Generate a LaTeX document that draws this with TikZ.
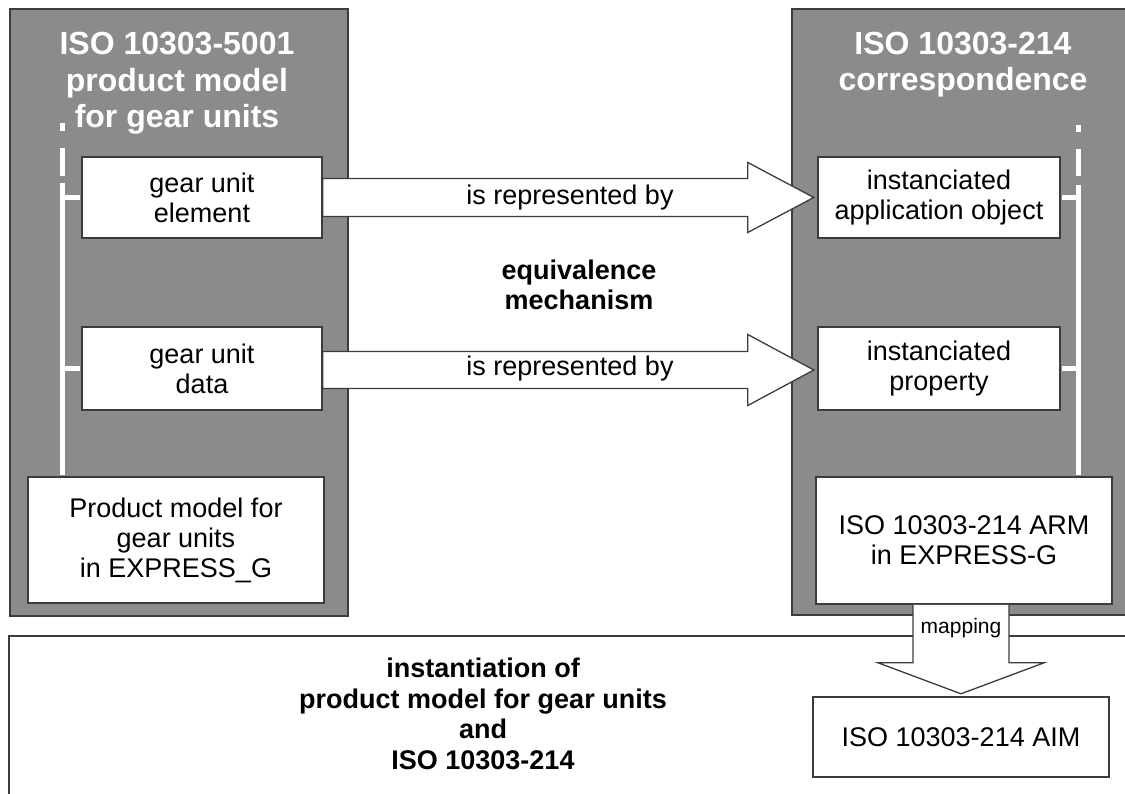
\documentclass[tikz,border=0pt]{standalone}
\usepackage{fontspec}
\setmainfont{Liberation Sans}
\usetikzlibrary{calc}
\definecolor{panelgray}{HTML}{8B8B8B}
\definecolor{edgegray}{HTML}{3C3C3C}
\tikzset{
  panel/.style={draw=edgegray,fill=panelgray,line width=1.5pt},
  itembox/.style={draw=edgegray,fill=white,line width=1.6pt,align=center,inner sep=0pt,
    font=\fontsize{27}{30}\selectfont},
  title/.style={text=white,align=center,font=\bfseries\fontsize{32}{36.5}\selectfont},
  boldtext/.style={align=center,font=\bfseries\fontsize{27}{30.5}\selectfont},
  blockarr/.style={draw=edgegray,fill=white,line width=1.3pt,line join=miter},
  tree/.style={white,line width=5pt},
}
\begin{document}
\begin{tikzpicture}[x=1pt,y=-1pt]
\useasboundingbox (0,0) rectangle (1125,794);
% panels and lower field
\draw[panel] (10,9) rectangle (348,616);
\draw[panel] (792,9) rectangle (1140,615);
\draw[edgegray,line width=1.5pt] (9,800) -- (9,636) -- (1140,636);
% titles (base = last line)
\node[title,anchor=base] (ltitle) at (177,128) {ISO 10303-5001\\product model\\for gear units};
\node[title,anchor=base] (rtitle) at (963,91) {ISO 10303-214\\correspondence};
% boxes
\node[itembox,minimum width=240pt,minimum height=81pt] (elem) at (202,197.5) {gear unit\\element};
\node[itembox,minimum width=240pt,minimum height=83pt] (gdata) at (202,368.5) {gear unit\\data};
\node[itembox,minimum width=296pt,minimum height=126pt] (pmodel) at (176,540) {Product model for\\gear units\\in EXPRESS\_G};
\node[itembox,minimum width=242pt,minimum height=81pt] (aobj) at (939,197.5) {instanciated\\application object};
\node[itembox,minimum width=242pt,minimum height=83pt] (aprop) at (939,368.5) {instanciated\\property};
\node[itembox,minimum width=296pt,minimum height=127pt] (arm) at (964,540.5) {ISO 10303-214 ARM\\in EXPRESS-G};
\node[itembox,minimum width=296pt,minimum height=80pt] (aim) at (961,737) {ISO 10303-214 AIM};
% tree lines
\coordinate (ltree) at (62,183);
\coordinate (rtree) at (1078,185);
\draw[tree] (62,123) -- (62,131) (62,148) -- (62,176);
\draw[tree] (1078,125) -- (1078,132) (1078,149) -- (1078,176);
\draw[tree,shorten >=0.8pt] (ltree) -- (ltree |- pmodel.north);
\draw[tree,shorten >=0.8pt] (ltree |- elem.west) -- (elem.west);
\draw[tree,shorten >=0.8pt] (ltree |- gdata.west) -- (gdata.west);
\draw[tree,shorten >=0.8pt] (rtree) -- (rtree |- arm.north);
\draw[tree,shorten >=0.8pt] (rtree |- aobj.east) -- (aobj.east);
\draw[tree,shorten >=0.8pt] (rtree |- aprop.east) -- (aprop.east);
% block arrows
\draw[blockarr] (elem.east) ++(0,-19) -- ++(425,0) -- ++(0,-16) -- ++(66,35) -- ++(-66,35) -- ++(0,-16) -- ++(-425,0) -- cycle;
\draw[blockarr] (gdata.east) ++(0,-17) -- ++(425,0) -- ++(0,-17) -- ++(66,35.5) -- ++(-66,35.5) -- ++(0,-17) -- ++(-425,0) -- cycle;
\path (elem.east) -- (aobj.west) node[midway,font=\fontsize{27}{30}\selectfont] (rep1) {is represented by};
\path (gdata.east) -- (aprop.west) node[midway,font=\fontsize{27}{30}\selectfont] (rep2) {is represented by};
\draw[blockarr] (arm.south) ++(-51,0) -- ++(0,58) -- ++(-35,0) -- ++(83,31) -- ++(83,-31) -- ++(-35,0) -- ++(0,-58);
\node[font=\fontsize{21}{24}\selectfont,anchor=base] (maplbl) at (961,633) {mapping};
% free texts
\node[boldtext,anchor=base] (equiv) at (579,310) {equivalence\\mechanism};
\node[boldtext,anchor=base] (inst) at (483,769) {instantiation of\\product model for gear units\\and\\ISO 10303-214};
\end{tikzpicture}
\end{document}
